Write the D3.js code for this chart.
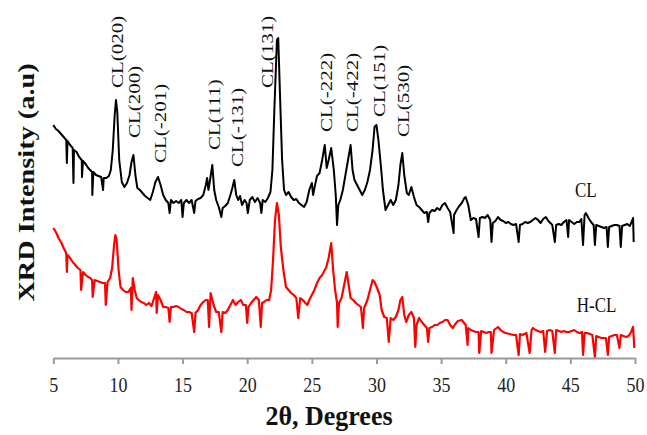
<!DOCTYPE html>
<html><head><meta charset="utf-8">
<script src="https://cdn.jsdelivr.net/npm/d3@7/dist/d3.min.js"></script>
<style>body{margin:0;background:#fff}svg{display:block}</style>
</head><body><svg id="c" width="647" height="435"></svg>
<script>
// ---- data (2θ in degrees, intensity in a.u.) ----
const xTicks = [5, 10, 15, 20, 25, 30, 35, 40, 45, 50];
const xTitle = "2θ, Degrees";
const yTitle = "XRD Intensity (a.u)";
const seriesNames = ["CL", "H-CL"];
const seriesColors = ["#000000", "#ff0000"];
const seriesLabelTheta = [45.35, 45.5];
const seriesLabelIntensity = [161, 46];

const clData = [
[5.0,233],[5.2,229],[5.4,227],[5.6,224],[5.8,221],[6.0,218],[6.05,195],[6.1,217],[6.3,213],[6.5,210],
[6.56,175],[6.6,208],[6.8,206],[7.0,201],[7.2,198],[7.22,181],[7.3,197],[7.5,194],[7.7,190],[7.85,188],
[8.0,186],[8.02,163],[8.1,186],[8.3,183],[8.5,182],[8.7,181],[8.85,168],[8.9,180],[9.1,180],[9.3,182],
[9.45,188],[9.6,208],[9.75,243],[9.85,258],[9.95,246],[10.1,198],[10.3,176],[10.5,171],[10.7,175],[10.9,183],
[11.05,196],[11.2,203],[11.35,183],[11.5,170],[11.7,168],[11.9,165],[12.1,162],[12.3,160],[12.5,158],[12.7,166],
[12.9,176],[13.1,181],[13.3,173],[13.5,163],[13.7,158],[13.9,155],[14.0,145],[14.1,158],[14.3,155],[14.5,157],
[14.7,155],[14.9,158],[15.0,141],[15.1,155],[15.3,158],[15.5,155],[15.7,158],[15.9,145],[16.0,157],[16.2,159],
[16.4,160],[16.6,163],[16.8,173],[16.9,180],[17.0,168],[17.15,180],[17.3,193],[17.45,168],[17.6,158],[17.8,151],
[18.0,141],[18.1,150],[18.3,152],[18.5,155],[18.7,163],[18.85,170],[19.0,178],[19.15,163],[19.3,158],[19.45,162],
[19.6,153],[19.8,158],[19.95,155],[20.05,145],[20.2,158],[20.4,161],[20.6,156],[20.8,160],[21.0,155],[21.1,145],
[21.2,158],[21.4,156],[21.6,160],[21.8,166],[21.95,188],[22.1,248],[22.3,318],[22.4,320],[22.55,258],[22.7,198],
[22.85,168],[23.0,163],[23.2,166],[23.4,161],[23.6,158],[23.8,159],[24.0,155],[24.2,153],[24.4,151],[24.6,156],
[24.8,168],[25.0,175],[25.1,163],[25.2,170],[25.4,182],[25.6,185],[25.8,198],[26.0,213],[26.15,190],[26.3,198],
[26.5,210],[26.7,188],[26.85,163],[26.95,133],[27.05,153],[27.2,158],[27.4,168],[27.6,183],[27.8,198],[28.0,213],
[28.15,188],[28.3,178],[28.5,173],[28.7,168],[28.9,163],[29.1,168],[29.3,176],[29.5,188],[29.7,208],[29.85,231],
[30.0,233],[30.15,218],[30.35,191],[30.5,168],[30.7,148],[30.9,153],[31.1,158],[31.3,153],[31.5,158],[31.7,173],
[31.85,193],[32.0,205],[32.15,183],[32.35,165],[32.5,163],[32.7,171],[32.9,161],[33.1,153],[33.3,151],[33.5,148],
[33.7,145],[33.9,146],[34.0,136],[34.1,145],[34.3,148],[34.5,147],[34.7,150],[34.9,148],[35.1,153],[35.3,155],
[35.5,150],[35.7,146],[35.97,125],[36.0,143],[36.2,148],[36.4,152],[36.6,155],[36.8,160],[36.9,161],[37.1,153],
[37.3,138],[37.5,140],[37.7,139],[37.9,121],[38.0,140],[38.2,141],[38.4,140],[38.6,143],[38.8,138],[38.9,116],
[39.0,135],[39.2,137],[39.4,141],[39.6,138],[39.8,137],[40.0,135],[40.2,136],[40.4,134],[40.6,133],[40.8,134],
[41.0,116],[41.1,133],[41.3,134],[41.5,136],[41.7,135],[41.9,136],[42.1,138],[42.3,140],[42.5,138],[42.7,135],
[42.9,139],[43.1,141],[43.3,137],[43.6,133],[43.8,116],[43.9,133],[44.1,134],[44.3,133],[44.5,136],[44.7,138],
[44.83,121],[44.9,138],[45.1,136],[45.3,134],[45.5,136],[45.7,136],[45.85,139],[45.98,113],[46.1,143],[46.2,145],
[46.4,140],[46.6,136],[46.8,133],[46.9,113],[47.0,133],[47.2,132],[47.4,131],[47.6,130],[47.8,131],[47.9,111],
[48.0,131],[48.2,132],[48.4,133],[48.6,133],[48.8,132],[48.9,111],[49.0,132],[49.2,133],[49.4,134],[49.6,132],
[49.8,138],[49.85,140],[49.9,116]
];

const hclData = [
[5.0,130],[5.2,126],[5.4,120],[5.6,116],[5.8,110],[6.0,105],[6.05,86],[6.1,103],[6.3,100],[6.5,96],
[6.7,93],[6.9,90],[7.1,88],[7.15,68],[7.3,86],[7.5,83],[7.7,81],[7.85,80],[8.0,78],[8.05,61],
[8.2,78],[8.4,77],[8.6,76],[8.8,75],[9.0,75],[9.06,53],[9.2,76],[9.4,80],[9.55,90],[9.7,113],
[9.8,123],[9.9,118],[10.05,88],[10.2,71],[10.4,68],[10.6,66],[10.8,66],[11.0,70],[11.05,48],[11.15,80],
[11.3,68],[11.45,60],[11.6,58],[11.8,56],[12.0,55],[12.2,53],[12.4,55],[12.6,52],[12.8,60],[12.95,66],
[13.0,45],[13.1,63],[13.3,58],[13.5,51],[13.7,51],[13.9,50],[14.0,36],[14.1,51],[14.3,51],[14.5,52],
[14.7,51],[14.9,49],[15.1,48],[15.3,46],[15.5,46],[15.7,45],[15.9,26],[16.0,45],[16.2,48],[16.4,53],
[16.6,56],[16.8,58],[16.95,58],[17.05,31],[17.17,65],[17.4,53],[17.6,46],[17.8,46],[18.0,26],[18.1,46],
[18.3,45],[18.5,48],[18.7,53],[18.9,58],[19.1,53],[19.3,56],[19.5,58],[19.7,53],[19.9,53],[20.0,35],
[20.1,51],[20.3,55],[20.5,58],[20.7,61],[20.9,58],[21.05,31],[21.15,55],[21.3,56],[21.5,58],[21.7,58],
[21.85,68],[22.0,98],[22.15,138],[22.3,155],[22.45,143],[22.6,111],[22.8,88],[23.0,71],[23.2,68],[23.4,65],
[23.6,63],[23.8,60],[23.95,40],[24.1,60],[24.3,58],[24.5,55],[24.65,53],[24.8,58],[25.0,63],[25.2,68],
[25.4,75],[25.6,80],[25.8,83],[26.0,88],[26.1,90],[26.3,100],[26.5,115],[26.65,88],[26.8,68],[26.95,55],
[27.0,31],[27.1,55],[27.3,60],[27.5,73],[27.7,86],[27.85,73],[28.0,60],[28.2,58],[28.4,55],[28.6,53],
[28.8,51],[28.95,30],[29.05,50],[29.3,58],[29.5,68],[29.7,78],[29.85,76],[30.05,70],[30.25,63],[30.4,48],
[30.6,41],[30.8,40],[30.95,16],[31.1,40],[31.3,38],[31.5,41],[31.7,48],[31.85,58],[32.0,61],[32.15,43],
[32.3,36],[32.5,43],[32.7,46],[32.9,40],[33.0,11],[33.1,33],[33.3,40],[33.5,36],[33.7,33],[33.9,30],
[34.0,16],[34.1,30],[34.3,31],[34.5,33],[34.7,33],[34.9,35],[35.1,36],[35.3,38],[35.5,38],[35.7,33],
[35.9,30],[36.1,34],[36.3,37],[36.6,38],[36.9,33],[37.05,13],[37.1,30],[37.3,28],[37.5,27],[37.7,26],
[37.9,26],[37.95,5],[38.1,27],[38.3,26],[38.5,25],[38.7,26],[38.85,26],[38.9,5],[39.1,28],[39.4,31],
[39.6,28],[39.8,26],[40.0,25],[40.3,24],[40.6,23],[40.8,23],[41.0,3],[41.1,24],[41.3,23],[41.6,25],
[41.85,5],[42.0,28],[42.1,30],[42.3,28],[42.5,27],[42.7,26],[42.9,27],[43.05,6],[43.2,27],[43.4,28],
[43.6,27],[43.8,5],[43.9,28],[44.1,27],[44.3,26],[44.5,27],[44.7,26],[44.9,26],[45.1,27],[45.3,28],
[45.5,26],[45.7,25],[45.9,26],[45.98,3],[46.1,25],[46.3,25],[46.5,24],[46.7,23],[46.9,1],[47.0,22],
[47.2,21],[47.4,20],[47.6,20],[47.75,20],[47.9,3],[48.0,21],[48.2,22],[48.4,23],[48.6,23],[48.8,10],
[48.9,23],[49.1,22],[49.3,21],[49.5,22],[49.7,26],[49.85,31],[49.95,10]
];

const peakLabels = ["CL(020)", "CL(200)", "CL(-201)", "CL(111)", "CL(-131)", "CL(131)", "CL(-222)", "CL(-422)", "CL(151)", "CL(530)"];
const peakTheta = [9.97, 11.32, 13.3, 17.5, 19.28, 21.6, 26.17, 28.18, 30.27, 32.13];
const peakLabelBase = [270, 220, 195, 208, 191, 270, 226, 226, 241, 221];

// ---- drawing ----
const svg = d3.select("#c");
const serif = "'Liberation Serif','Times New Roman',Times,serif";
const SY = 1.2; // vertical stretch of the original raster text

const x = d3.scaleLinear().domain([5, 50]).range([53.3, 635]);
const y = d3.scaleLinear().domain([0, 330]).range([358, 28]);

const line = d3.line().x(d => x(d[0])).y(d => y(d[1]));

[clData, hclData].forEach((data, i) => {
  svg.append("path")
    .datum(data)
    .attr("d", line)
    .attr("fill", "none")
    .attr("stroke", seriesColors[i])
    .attr("stroke-width", i === 0 ? 2.0 : 2.2)
    .attr("stroke-linejoin", "round")
    .attr("stroke-linecap", "butt");
});

// x axis
const axis = svg.append("g")
  .attr("transform", `translate(0,${y(0)})`)
  .call(d3.axisBottom(x).tickValues(xTicks).tickSize(6).tickSizeOuter(0).tickFormat(d3.format("d")));
axis.select(".domain").attr("stroke", "#9a9a9a").attr("stroke-width", 2);
axis.selectAll(".tick line").attr("stroke", "#9a9a9a").attr("stroke-width", 2);
axis.selectAll(".tick text")
  .attr("y", null).attr("dy", null)
  .attr("transform", `translate(0,34) scale(1,${SY})`)
  .attr("fill", "#222")
  .style("font-family", serif)
  .style("font-size", "18px");

// x title
svg.append("text")
  .attr("transform", `translate(329,425) scale(1,1.08)`)
  .attr("text-anchor", "middle")
  .style("font-family", serif)
  .style("font-weight", "bold")
  .style("font-size", "26px")
  .attr("fill", "#111")
  .text(xTitle);

// y title
svg.append("text")
  .attr("transform", `translate(34,182.5) scale(1,1.18) rotate(-90)`)
  .attr("text-anchor", "middle")
  .style("font-family", serif)
  .style("font-weight", "bold")
  .style("font-size", "24px")
  .attr("fill", "#111")
  .text(yTitle);

// peak labels
peakLabels.forEach((t, i) => {
  svg.append("text")
    .attr("transform", `translate(${x(peakTheta[i]) + 5},${y(peakLabelBase[i])}) scale(1,${SY}) rotate(-90)`)
    .attr("text-anchor", "start")
    .style("font-family", serif)
    .style("font-size", "17.5px")
    .attr("fill", "#111")
    .text(t);
});

// series labels
seriesNames.forEach((t, i) => {
  svg.append("text")
    .attr("transform", `translate(${x(seriesLabelTheta[i])},${y(seriesLabelIntensity[i])}) scale(1,${SY})`)
    .attr("text-anchor", "start")
    .style("font-family", serif)
    .style("font-size", "17px")
    .attr("fill", "#111")
    .text(t);
});
</script>
</body></html>
